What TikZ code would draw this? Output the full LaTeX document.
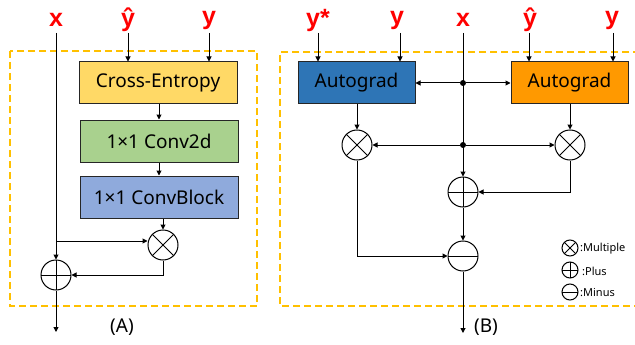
\documentclass[tikz,border=0pt]{standalone}
\usepackage{fontspec}
\setmainfont{Noto Sans}
\newfontfamily\lblfont{Liberation Sans}
\usetikzlibrary{arrows.meta}
\definecolor{dashor}{HTML}{FFC000}
\definecolor{ceyel}{HTML}{FFD966}
\definecolor{cvgrn}{HTML}{A9D18E}
\definecolor{cbblu}{HTML}{8FAADC}
\definecolor{agblu}{HTML}{2E75B6}
\definecolor{agorg}{HTML}{FF9900}
\definecolor{lblred}{HTML}{FF0000}
\tikzset{
  lbl/.style={text=lblred,font=\lblfont\fontsize{25}{25}\selectfont\bfseries,inner sep=0pt},
  box/.style={draw=black!85,line width=1pt,minimum width=158pt,minimum height=42pt,inner sep=0pt,font=\fontsize{19}{19}\selectfont},
  agbox/.style={draw=black!85,line width=1pt,minimum width=117pt,minimum height=42pt,inner sep=0pt,font=\fontsize{19}{19}\selectfont},
  op/.style={circle,draw,line width=1pt,minimum size=30pt,inner sep=0pt},
  sop/.style={circle,draw,line width=1pt,minimum size=16pt,inner sep=0pt},
  mult/.style={path picture={\draw[line width=1pt] (path picture bounding box.north west)--(path picture bounding box.south east) (path picture bounding box.north east)--(path picture bounding box.south west);}},
  plus/.style={path picture={\draw[line width=1pt] (path picture bounding box.north)--(path picture bounding box.south) (path picture bounding box.west)--(path picture bounding box.east);}},
  minus/.style={path picture={\draw[line width=1pt] (path picture bounding box.west)--(path picture bounding box.east);}},
  arr/.style={line width=1pt,-{Triangle[length=5pt,width=5pt]}},
  ln/.style={line width=1pt},
  dashbox/.style={draw=dashor,line width=1.6pt,dash pattern=on 7pt off 4pt},
  legtxt/.style={font=\fontsize{11}{11}\selectfont,inner sep=0pt,anchor=west},
  captxt/.style={font=\fontsize{19}{19}\selectfont,inner sep=0pt},
  dot/.style={circle,fill,inner sep=0pt,minimum size=6pt}
}
\begin{document}
\begin{tikzpicture}[x=1pt,y=-1pt]
\useasboundingbox (0,0) rectangle (635,345);
% ---------------- Panel A ----------------
\draw[dashbox] (10,51) rectangle (257,306);
\node[lbl] (ax) at (56,20) {x};
\node[lbl] (ayh) at (128,20) {ŷ};
\node[lbl] (ay) at (209,20) {y};
\node[box,fill=ceyel] (ce) at (158,83) {Cross-Entropy};
\node[box,fill=cvgrn] (cv) at (159,141) {1×1 Conv2d};
\node[box,fill=cbblu] (cb) at (159,197) {1×1 ConvBlock};
\node[op,mult] (am) at (163,245) {};
\node[op,plus] (ap) at (56,275) {};
\coordinate (aout) at (56,332);
\draw[arr] (128,33) coordinate (t1) -- (t1 |- ce.north);
\draw[arr] (209,33) coordinate (t2) -- (t2 |- ce.north);
\draw[arr] (ce.south -| 159,0) -- (cv.north);
\draw[arr] (cv.south) -- (cb.north);
\draw[arr] (cb.south -| am.north) -- (am.north);
\draw[arr] (56,33) -- (ap.north);
\coordinate (abr) at (56,241);
\draw[arr] (abr) -- (abr -| am.west) ;
\draw[arr] (am.south) |- (ap.east);
\draw[arr] (ap.south) -- (aout);
\node[captxt] (capa) at (122,327) {(A)};
% ---------------- Panel B ----------------
\draw[dashbox] (640,52) -- (280,52) -- (280,306) -- (640,306);
\node[lbl] (bys) at (318,20) {y*};
\node[lbl] (by1) at (397,20) {y};
\node[lbl] (bx) at (463,20) {x};
\node[lbl] (byh) at (530,20) {ŷ};
\node[lbl] (by2) at (612,20) {y};
\node[agbox,fill=agblu] (ag1) at (356.5,83) {Autograd};
\node[agbox,fill=agorg] (ag2) at (569.5,83) {Autograd};
\node[op,mult] (bm1) at (357,145) {};
\node[op,mult] (bm2) at (570,145) {};
\node[op,plus] (bp) at (463,192) {};
\node[op,minus] (bmi) at (463,256) {};
\node[dot] (d1) at (463,83) {};
\node[dot] (d2) at (463,145) {};
\coordinate (bout) at (463,333);
\draw[arr] (318,33) coordinate (s1) -- (s1 |- ag1.north);
\draw[arr] (400,33) coordinate (s2) -- (s2 |- ag1.north);
\draw[arr] (529,33) coordinate (s3) -- (s3 |- ag2.north);
\draw[arr] (613,33) coordinate (s4) -- (s4 |- ag2.north);
\draw[arr] (463,33) -- (bp.north);
\draw[arr] (d1) -- (ag1.east);
\draw[arr] (d1) -- (ag2.west);
\draw[arr] (d2) -- (bm1.east);
\draw[arr] (d2) -- (bm2.west);
\draw[arr] (ag1.south -| bm1.north) -- (bm1.north);
\draw[arr] (ag2.south -| bm2.north) -- (bm2.north);
\draw[arr] (bm2.south) |- (bp.east);
\draw[arr] (bm1.south) |- (bmi.west);
\draw[arr] (bp.south) -- (bmi.north);
\draw[arr] (bmi.south) -- (bout);
\node[captxt] (capb) at (486,327) {(B)};
% legend
\node[sop,mult] (lm) at (570,248) {};
\node[sop,plus] (lp) at (570,270) {};
\node[sop,minus] (lmi) at (570,292) {};
\node[legtxt] (lmt) at (580,249) {:Multiple};
\node[legtxt] (lpt) at (582,271) {:Plus};
\node[legtxt] (lmit) at (580,293) {:Minus};
\end{tikzpicture}
\end{document}
